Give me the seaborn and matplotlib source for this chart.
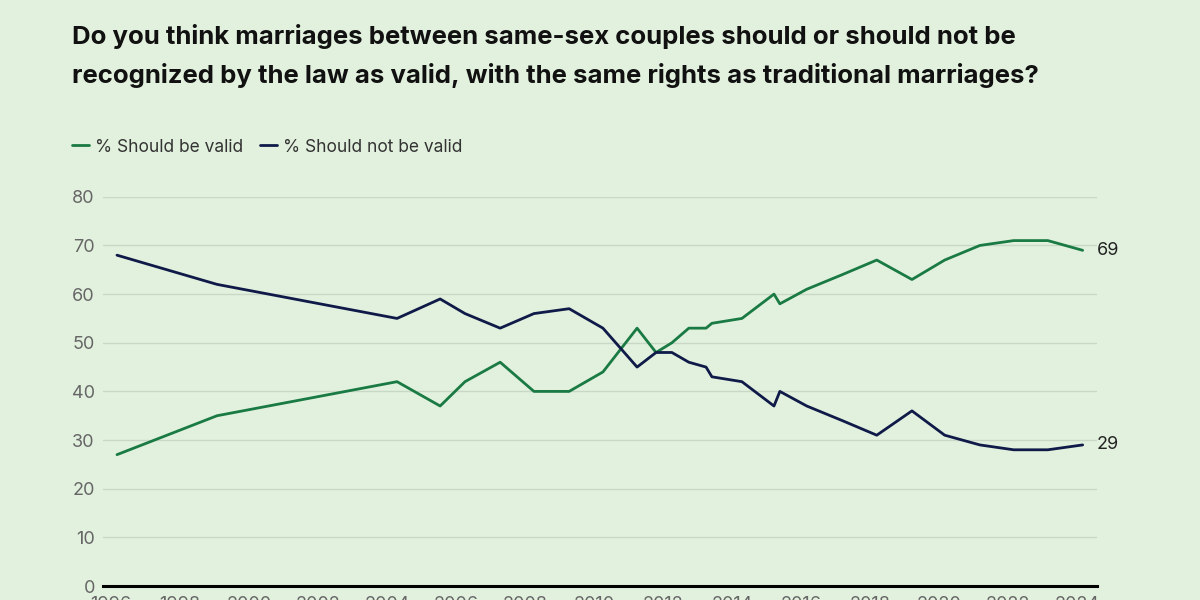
import numpy as np
import matplotlib
matplotlib.use("Agg")
import matplotlib.pyplot as plt
import seaborn as sns
import pandas as pd

# survey dates (decimal years) and results
years = [1996.17, 1999.07, 2004.29, 2005.54, 2006.26, 2007.28, 2008.26, 2009.28,
         2010.26, 2011.25, 2011.80, 2012.26, 2012.75, 2013.25, 2013.42, 2014.29,
         2015.22, 2015.39, 2016.17, 2017.20, 2018.20, 2019.22, 2020.17, 2021.19,
         2022.17, 2023.16, 2024.17]
valid = [27, 35, 42, 37, 42, 46, 40, 40, 44, 53, 48, 50, 53, 53, 54, 55,
         60, 58, 61, 64, 67, 63, 67, 70, 71, 71, 69]
not_valid = [68, 62, 55, 59, 56, 53, 56, 57, 53, 45, 48, 48, 46, 45, 43, 42,
             37, 40, 37, 34, 31, 36, 31, 29, 28, 28, 29]
series_names = ["% Should be valid", "% Should not be valid"]
tick_years = list(range(1996, 2025, 2))
y_ticks = [0, 10, 20, 30, 40, 50, 60, 70, 80]

title = ("Do you think marriages between same-sex couples should or should not be\n"
         "recognized by the law as valid, with the same rights as traditional marriages?")

bg = "#e2f1de"
green = "#1a7a43"
navy = "#0f1a48"

data = pd.DataFrame({
    "year": years * 2,
    "value": valid + not_valid,
    "series": [series_names[0]] * len(years) + [series_names[1]] * len(years),
})

sns.set_theme(style="white")
plt.rcParams["font.family"] = ["Inter", "DejaVu Sans"]

fig = plt.figure(figsize=(12, 6), dpi=100, facecolor=bg)
ax = fig.add_axes([0.086, 0.0233, 0.828, 0.6487])
ax.set_facecolor(bg)

sns.lineplot(data=data, x="year", y="value", hue="series",
             palette=[green, navy], linewidth=2.0, ax=ax, legend=False)

ax.set_xlim(1995.77, 2024.58)
ax.set_ylim(0, 80)
ax.set_yticks(y_ticks)
ax.set_xticks(tick_years)
ax.set_xticklabels([str(y) for y in tick_years])
ax.grid(axis="y", color="#c9d8c6", linewidth=1.0)
ax.set_axisbelow(True)
for side in ["top", "right", "left"]:
    ax.spines[side].set_visible(False)
ax.spines["bottom"].set_color("black")
ax.spines["bottom"].set_linewidth(2.2)
ax.tick_params(axis="y", length=0, pad=6, labelsize=13, labelcolor="#666666")
ax.tick_params(axis="x", length=0, pad=7, labelsize=13, labelcolor="#666666")
ax.set_xlabel("")
ax.set_ylabel("")

# end labels
ax.annotate(str(valid[-1]), (years[-1], valid[-1]), xytext=(10, 0),
            textcoords="offset points", va="center", ha="left",
            fontsize=13, color="#222222")
ax.annotate(str(not_valid[-1]), (years[-1], not_valid[-1]), xytext=(10, 0),
            textcoords="offset points", va="center", ha="left",
            fontsize=13, color="#222222")

# title
fig.text(0.06, 0.96, title, ha="left", va="top", fontsize=18.5,
         fontweight="bold", color="#111111", linespacing=1.68)

# legend
handles = [plt.Line2D([], [], color=green, linewidth=2.0),
           plt.Line2D([], [], color=navy, linewidth=2.0)]
fig.legend(handles, series_names, loc="center left", bbox_to_anchor=(0.047, 0.755),
           ncol=2, frameon=False, fontsize=12.5, handlelength=1.0,
           handletextpad=0.3, columnspacing=1.0, labelcolor="#333333")

fig.savefig("out.png", dpi=100, facecolor=bg)
